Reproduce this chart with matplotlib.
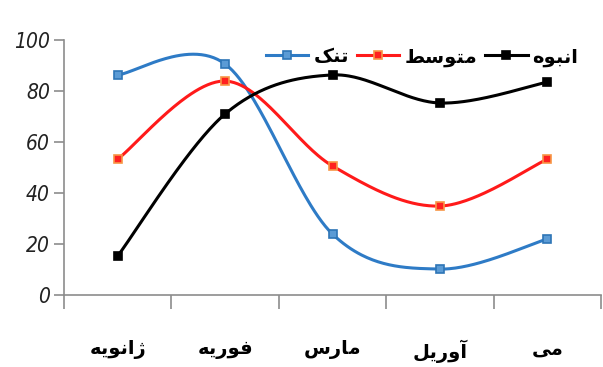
import numpy as np
import matplotlib
matplotlib.use("Agg")
import matplotlib.pyplot as plt
from matplotlib.lines import Line2D
from matplotlib import font_manager

# ---- data -------------------------------------------------------------
months = ["ژانویه", "فوریه", "مارس", "آوریل", "می"]
series_names = ["تنک", "متوسط", "انبوه"]
sparse = [86.3, 90.6, 23.9, 10.2, 22.0]
medium = [53.3, 83.9, 50.6, 34.9, 53.3]
dense = [15.3, 71.0, 86.3, 75.3, 83.5]
y_ticks = [0, 20, 40, 60, 80, 100]

# ---- minimal Persian shaping (presentation forms, visual order) ---------
FORMS = {
    # letter: (isolated, final, initial, medial) ; None -> right-joining only
    "ا": ("\uFE8D", "\uFE8E", None, None),
    "آ": ("\uFE81", "\uFE82", None, None),
    "ر": ("\uFEAD", "\uFEAE", None, None),
    "ژ": ("\uFB8A", "\uFB8B", None, None),
    "و": ("\uFEED", "\uFEEE", None, None),
    "ب": ("\uFE8F", "\uFE90", "\uFE91", "\uFE92"),
    "ت": ("\uFE95", "\uFE96", "\uFE97", "\uFE98"),
    "س": ("\uFEB1", "\uFEB2", "\uFEB3", "\uFEB4"),
    "ط": ("\uFEC1", "\uFEC2", "\uFEC3", "\uFEC4"),
    "ف": ("\uFED1", "\uFED2", "\uFED3", "\uFED4"),
    "ک": ("\uFB8E", "\uFB8F", "\uFB90", "\uFB91"),
    "ل": ("\uFEDD", "\uFEDE", "\uFEDF", "\uFEE0"),
    "م": ("\uFEE1", "\uFEE2", "\uFEE3", "\uFEE4"),
    "ن": ("\uFEE5", "\uFEE6", "\uFEE7", "\uFEE8"),
    "ه": ("\uFEE9", "\uFEEA", "\uFEEB", "\uFEEC"),
    "ی": ("\uFBFC", "\uFBFD", "\uFBFE", "\uFBFF"),
}


def dual(ch):
    return ch in FORMS and FORMS[ch][2] is not None


def shape(word):
    out = []
    n = len(word)
    for i, ch in enumerate(word):
        if ch not in FORMS:
            out.append(ch)
            continue
        prev = i > 0 and dual(word[i - 1])
        nxt = dual(ch) and i + 1 < n and word[i + 1] in FORMS
        iso, fin, ini, med = FORMS[ch]
        if prev and nxt:
            out.append(med)
        elif prev:
            out.append(fin)
        elif nxt:
            out.append(ini)
        else:
            out.append(iso)
    return "".join(reversed(out))


def smooth(xs, ys, steps=60):
    """Catmull-Rom style Bezier smoothing through the data points."""
    P = np.column_stack([xs, ys]).astype(float)
    n = len(P)
    ext = np.vstack([P[0], P, P[-1]])
    pts = []
    for i in range(n - 1):
        p0, p1, p2, p3 = ext[i], ext[i + 1], ext[i + 2], ext[i + 3]
        c1 = p1 + (p2 - p0) / 6.0
        c2 = p2 - (p3 - p1) / 6.0
        t = np.linspace(0, 1, steps)[:, None]
        seg = ((1 - t) ** 3) * p1 + 3 * ((1 - t) ** 2) * t * c1 \
            + 3 * (1 - t) * t ** 2 * c2 + t ** 3 * p2
        pts.append(seg if i == 0 else seg[1:])
    arr = np.vstack(pts)
    return arr[:, 0], arr[:, 1]


# narrow italic face for the value axis, if one is available
names = {f.name for f in font_manager.fontManager.ttflist}
if "DejaVu Sans Condensed" in names:
    num_font = font_manager.FontProperties(family="DejaVu Sans Condensed",
                                           style="oblique", size=15)
else:
    num_font = font_manager.FontProperties(family="DejaVu Sans",
                                           stretch="condensed",
                                           style="oblique", size=15)

# ---- figure -------------------------------------------------------------
fig = plt.figure(figsize=(6.03, 3.67), dpi=100)
ax = fig.add_axes([0.106, 0.196, 0.891, 0.695])

x = np.arange(len(months)) + 0.5
styles = [
    (sparse, "#2e7bc6", "#5b9bd5", "#2e75b6"),
    (medium, "#ff1a1a", "#ff2020", "#f79646"),
    (dense, "#000000", "#000000", "#000000"),
]
handles = []
for (vals, lc, mfc, mec), name in zip(styles, series_names):
    sx, sy = smooth(x, vals)
    ax.plot(sx, sy, color=lc, lw=2.2, solid_capstyle="round", zorder=2)
    ax.plot(x, vals, ls="none", marker="s", ms=6.0, mfc=mfc, mec=mec,
            mew=1.2, zorder=3)
    handles.append(Line2D([], [], color=lc, lw=2.2, marker="s", ms=6.0,
                          mfc=mfc, mec=mec, mew=1.2))

ax.set_xlim(0, len(months))
ax.set_ylim(0, 100)
ax.set_yticks(y_ticks)
ax.set_yticklabels([str(v) for v in y_ticks], fontproperties=num_font,
                   color="#222222")
ax.set_xticks(np.arange(len(months) + 1))
ax.set_xticklabels([])
ax.set_xticks(x, minor=True)
ax.set_xticklabels([shape(m) for m in months], minor=True,
                   fontweight="bold", fontsize=14, family="DejaVu Sans")
ax.tick_params(axis="x", which="minor", length=0, pad=32)
ax.tick_params(axis="x", which="major", length=10, width=1.2,
               color="#8c8c8c", direction="out")
ax.tick_params(axis="y", length=7, width=1.2, color="#8c8c8c", pad=3)

for side in ("top", "right"):
    ax.spines[side].set_visible(False)
for side in ("left", "bottom"):
    ax.spines[side].set_color("#8c8c8c")
    ax.spines[side].set_linewidth(1.2)

leg = ax.legend(handles, [shape(s) for s in series_names], ncol=3,
                loc="upper right", bbox_to_anchor=(0.99, 1.04),
                frameon=False, handlelength=2.2, handletextpad=0.25,
                columnspacing=0.4,
                prop={"family": "DejaVu Sans", "weight": "bold", "size": 14})

fig.savefig("out.png", dpi=100)
